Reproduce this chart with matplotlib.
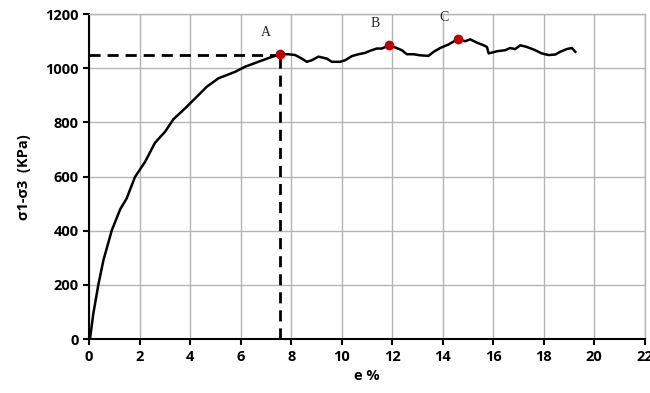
import matplotlib.pyplot as plt

# strain (%) and deviator stress (kPa)
strain = [0, 0.04, 0.17, 0.37, 0.57, 0.90, 1.23, 1.49, 1.82, 2.22, 2.61, 3.01, 3.34,
          3.80, 4.33, 4.66, 5.12, 5.78, 6.18, 6.70, 7.17, 7.55,
          7.89, 8.16, 8.42, 8.62, 8.82, 9.08, 9.41, 9.61, 9.94, 10.14, 10.40, 10.67,
          10.93, 11.13, 11.39, 11.59, 11.89, 12.12, 12.38, 12.58, 12.84, 13.11,
          13.44, 13.64, 13.90, 14.23, 14.60, 14.89, 15.09, 15.35, 15.62, 15.75, 15.82,
          16.15, 16.48, 16.67, 16.87, 17.07, 17.33, 17.66, 17.92, 18.19, 18.46, 18.65,
          18.91, 19.11, 19.25]
stress = [0, 3, 95, 202, 292, 402, 479, 520, 599, 655, 725, 766, 812,
          852, 901, 932, 963, 987, 1006, 1024, 1040, 1052,
          1052, 1049, 1036, 1024, 1030, 1043, 1036, 1024, 1024, 1030, 1045, 1052,
          1057, 1065, 1073, 1073, 1085, 1077, 1067, 1052, 1052, 1048,
          1046, 1061, 1075, 1088, 1108, 1100, 1107, 1095, 1085, 1079, 1055,
          1063, 1067, 1075, 1071, 1085, 1079, 1067, 1055, 1049, 1051, 1061,
          1071, 1075, 1061]

# marked points
pt_labels = ['A', 'B', 'C']
pt_x = [7.55, 11.89, 14.60]
pt_y = [1052, 1085, 1108]
peak_x = 7.55
peak_y = 1050

xticks = list(range(0, 23, 2))
yticks = list(range(0, 1201, 200))

fig = plt.figure(figsize=(6.5, 3.93), dpi=100)
ax = fig.add_axes([0.137, 0.137, 0.855, 0.827])

ax.plot(strain, stress, color='black', lw=1.8, zorder=3)
ax.plot([0, peak_x], [peak_y, peak_y], color='black', lw=2, ls=(0, (4, 2.5)), zorder=2)
ax.plot([peak_x, peak_x], [0, peak_y], color='black', lw=2, ls=(0, (4, 2.5)), zorder=2)
ax.plot(pt_x, pt_y, 'o', color='#c00000', ms=6, zorder=4)
for lab, x, y in zip(pt_labels, pt_x, pt_y):
    ax.text(x - 0.55, y + 55, lab, family='Liberation Serif', fontsize=10,
            color='#222222', ha='center', va='bottom')

ax.set_xlim(0, 22)
ax.set_ylim(0, 1200)
ax.set_xticks(xticks)
ax.set_yticks(yticks)
ax.grid(True, color='#b4b4b4', lw=1)
ax.set_axisbelow(True)
for s in ['top', 'right']:
    ax.spines[s].set_color('#b4b4b4')
    ax.spines[s].set_linewidth(1)
for s in ['left', 'bottom']:
    ax.spines[s].set_linewidth(1.5)
ax.tick_params(length=4, width=1.5, direction='out', labelsize=10.5)
for t in ax.get_xticklabels() + ax.get_yticklabels():
    t.set_fontweight('bold')
    t.set_family('Open Sans')

ax.set_xlabel('e %', fontsize=10.5, fontweight='bold', family='Open Sans', labelpad=4)
ax.set_ylabel('σ1-σ3  (KPa)', fontsize=10.5, fontweight='bold', family='Open Sans', labelpad=10)

fig.savefig('out.png', dpi=100)
